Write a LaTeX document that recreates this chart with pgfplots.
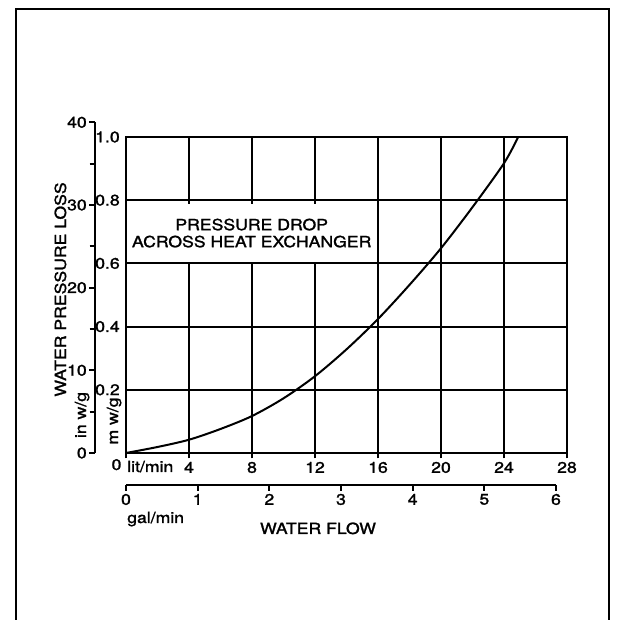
\documentclass[border=0pt]{standalone}
\usepackage{fontspec}
\setmainfont{TeX Gyre Heros}[FakeStretch=1.15,FakeBold=1.5]
\usepackage{pgfplots}
\pgfplotsset{compat=1.18}
\begin{document}
\begin{tikzpicture}[x=0.75pt,y=0.75pt,font=\fontsize{11.5}{12.75}\selectfont]
\useasboundingbox (0,0) rectangle (622,620);
\draw[line width=2pt] (16,0) -- (16,611) -- (609,611) -- (609,0);
\coordinate (LA) at (95,167);
\coordinate (MA) at (126,167);
\coordinate (GA) at (126,135);

% left axis: in w/g
\begin{axis}[at={(LA)}, anchor=south west, scale only axis,
  width=1pt, height=248pt, xmin=0, xmax=1, ymin=0, ymax=40,
  hide x axis, axis y line=left, y axis line style={-},
  axis line style={line width=1.4pt},
  ytick={0,10,20,30,40}, minor ytick={5,15,25,35},
  tick align=outside, major tick length=4.5pt, minor tick length=4pt,
  every tick/.style={line width=1.4pt, black},
  yticklabel style={inner sep=1.5pt},
  /pgf/number format/assume math mode=true]
\end{axis}

% main axis: lit/min vs m w/g
\begin{axis}[at={(MA)}, anchor=south west, scale only axis,
  width=330.75pt, height=237pt,
  xmin=0, xmax=28, ymin=0, ymax=1,
  xtick={0,4,8,12,16,20,24,28}, xticklabels={,4,8,12,16,20,24,28},
  ytick={0,0.2,0.4,0.6,0.8,1.0}, yticklabels={,0.2,0.4,0.6,0.8,1.0},
  grid=major, grid style={black, line width=1.4pt},
  axis line style={line width=1.4pt},
  tick align=outside, major tick length=4pt,
  xtick pos=bottom, ytick pos=left,
  ytick style={draw=none}, xtick style={line width=1.4pt, black},
  yticklabel style={inner sep=0.5pt}, xticklabel style={inner sep=2.5pt},
  /pgf/number format/assume math mode=true]
\addplot[smooth, line width=1.5pt, black] coordinates {
(0,0) (2,0.019) (4,0.042) (6,0.076) (8,0.117) (10,0.173) (12,0.243)
(14,0.328) (16,0.424) (18,0.532) (20,0.648) (22,0.778) (24,0.917) (24.9,1.0)};
\node[fill=white, inner sep=0pt, minimum width=186.4pt, minimum height=44pt, align=center]
  at (axis cs:7.98,0.696) {PRESSURE DROP\\ACROSS HEAT EXCHANGER};
\end{axis}

% gal/min axis
\begin{axis}[at={(GA)}, anchor=south west, scale only axis,
  width=322.5pt, height=1pt, xmin=0, xmax=6, ymin=0, ymax=1,
  hide y axis, axis x line=bottom, x axis line style={-},
  axis line style={line width=1.4pt},
  xtick={0,1,2,3,4,5,6},
  tick align=outside, major tick length=4.5pt,
  every tick/.style={line width=1.4pt, black},
  xticklabel style={inner sep=2pt},
  /pgf/number format/assume math mode=true]
\end{axis}

\node[anchor=base west, inner sep=0pt] at (127,148) {lit/min};
\node[anchor=base, inner sep=0pt] at (116.5,150) {0};
\node[anchor=base west, inner sep=0pt] at (127,97) {gal/min};
\node[anchor=base, inner sep=0pt] at (318,86) {WATER FLOW};
\node[rotate=90, anchor=base, inner sep=0pt] at (66,330.5) {WATER PRESSURE LOSS};
\node[rotate=90, anchor=base, inner sep=0pt] at (86,205) {in w/g};
\node[rotate=90, anchor=base, inner sep=0pt] at (118,199) {m w/g};
\end{tikzpicture}
\end{document}
